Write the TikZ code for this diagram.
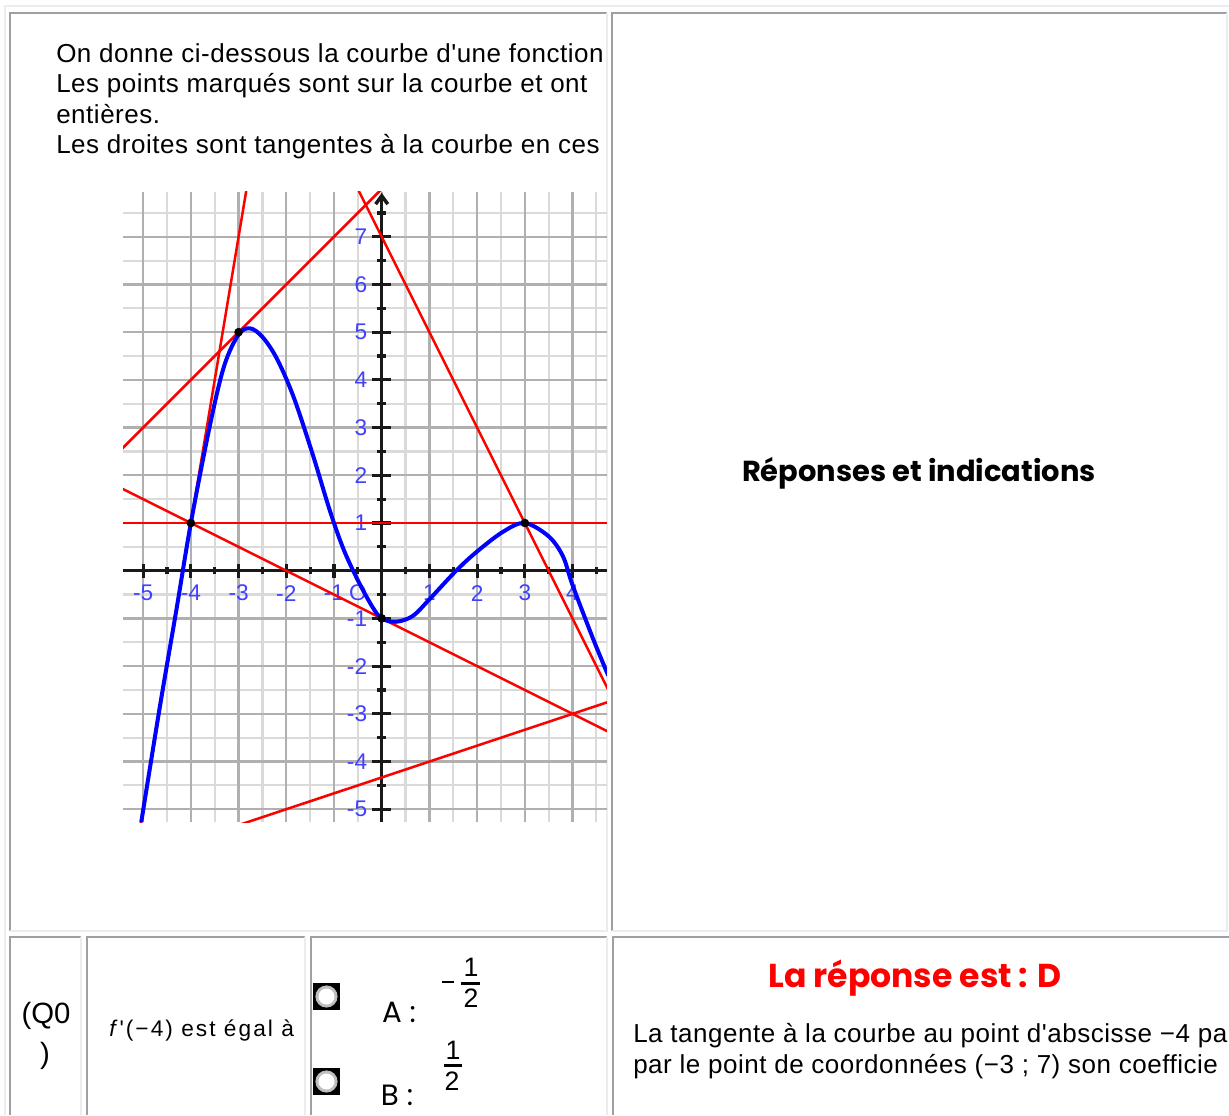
\documentclass[tikz,border=0pt]{standalone}
\usepackage{fontspec}
\setmainfont{Liberation Sans}
\newfontfamily\webfont{Liberation Sans}[LetterSpace=2]
\newfontfamily\widefont{Liberation Sans}[LetterSpace=9]
\newfontfamily\comicfont{Poppins}
\usepackage{xcolor}
\usetikzlibrary{arrows.meta}

\definecolor{celldark}{RGB}{160,160,164}
\definecolor{celllight}{RGB}{236,236,236}
\definecolor{gridmajor}{RGB}{176,176,176}
\definecolor{gridminor}{RGB}{218,218,218}
\definecolor{labelblue}{RGB}{64,64,255}

\begin{document}
\begin{tikzpicture}[x=0.75pt,y=-0.75pt,
  darkedge/.style={celldark,line width=1.5pt},
  lightedge/.style={celllight,line width=1.5pt},
  bodytext/.style={inner sep=0pt,font=\webfont\fontsize{19.5}{23}\selectfont},
  axlabel/.style={inner sep=0pt,text=labelblue,font=\fontsize{17}{20}\selectfont},
  tangent/.style={red,line width=1.9pt},
  curve/.style={blue,line width=3pt,line join=round},
  marked/.style={circle,fill=black,inner sep=0pt,minimum size=6.5pt},
  radio/.style={rectangle,fill=black,inner sep=0pt,minimum size=20pt,
    path picture={\fill[gray!50] (path picture bounding box.center) circle (8.3pt);
                  \fill[white] (path picture bounding box.center) circle (6pt);}}]
  \useasboundingbox[fill=white] (0,0) rectangle (1229,1115);

  % table frame
  \draw[lightedge] (5,1115) |- (1229,5.5);
  \draw[darkedge] (9.5,931) |- (607,12.5);
  \draw[lightedge] (607,12.5) |- (9.5,931);
  \draw[darkedge] (612,931) |- (1227,12.5);
  \draw[lightedge] (1227,12.5) |- (612,931);
  \draw[darkedge] (9.5,1115) |- (81,937);
  \draw[lightedge] (81,937) -- (81,1115);
  \draw[darkedge] (87,1115) |- (305,937);
  \draw[lightedge] (305,937) -- (305,1115);
  \draw[darkedge] (311,1115) |- (607,937);
  \draw[lightedge] (607,937) -- (607,1115);
  \draw[darkedge] (612.5,1115) |- (1229,937);

  % statement
  \begin{scope}
    \clip (10,13) rectangle (605,930);
    \node[bodytext,anchor=base west] (intro1) at (56,62) {On donne ci-dessous la courbe d'une fonction};
    \node[bodytext,anchor=base west] (intro2) at (56,92.5) {Les points marqués sont sur la courbe et ont};
    \node[bodytext,anchor=base west] (intro3) at (56,123) {entières.};
    \node[bodytext,anchor=base west] (intro4) at (56,153.5) {Les droites sont tangentes à la courbe en ces};
  \end{scope}

  % graph
  \begin{scope}[shift={(381.7,570.7)},x={(35.78pt,0pt)},y={(0pt,35.78pt)}]
    \draw[gridminor,line width=1.6pt] (-5.42,-5.27) grid[step=0.5] (4.72,7.94);
    \draw[gridmajor,line width=1.8pt] (-5.42,-5.27) grid[step=1] (4.72,7.94);

    \node[axlabel] (xm5) at (-5,-0.47) {-5};
    \node[axlabel] (xm4) at (-4,-0.47) {-4};
    \node[axlabel] (xm3) at (-3,-0.47) {-3};
    \node[axlabel] (xm2) at (-2,-0.47) {-2};
    \node[axlabel] (xm1) at (-1,-0.47) {-1};
    \node[axlabel] (orig) at (-0.5,-0.47) {O};
    \node[axlabel] (xp1) at (1,-0.47) {1};
    \node[axlabel] (xp2) at (2,-0.47) {2};
    \node[axlabel] (xp3) at (3,-0.47) {3};
    \node[axlabel] (xp4) at (4,-0.47) {4};
    \node[axlabel,anchor=east] (yp7) at (-0.3,7) {7};
    \node[axlabel,anchor=east] (yp6) at (-0.3,6) {6};
    \node[axlabel,anchor=east] (yp5) at (-0.3,5) {5};
    \node[axlabel,anchor=east] (yp4) at (-0.3,4) {4};
    \node[axlabel,anchor=east] (yp3) at (-0.3,3) {3};
    \node[axlabel,anchor=east] (yp2) at (-0.3,2) {2};
    \node[axlabel,anchor=east] (yp1) at (-0.3,1) {1};
    \node[axlabel,anchor=east] (ym1) at (-0.3,-1) {-1};
    \node[axlabel,anchor=east] (ym2) at (-0.3,-2) {-2};
    \node[axlabel,anchor=east] (ym3) at (-0.3,-3) {-3};
    \node[axlabel,anchor=east] (ym4) at (-0.3,-4) {-4};
    \node[axlabel,anchor=east] (ym5) at (-0.3,-5) {-5};

    % axes
    \draw[black!90,line width=2.3pt] (-5.42,0) -- (4.72,0);
    \draw[black!90,line width=2.6pt,-{Straight Barb[length=2.2mm,width=3.2mm]}] (0,-5.27) -- (0,7.92);
    \foreach \t in {-5,...,4} \draw[black!90,line width=2.4pt] (\t,-0.15) -- (\t,0.15);
    \foreach \t in {-4.5,-3.5,-2.5,-1.5,-0.5,0.5,1.5,2.5,3.5,4.5} \draw[black!90,line width=2.4pt] (\t,-0.07) -- (\t,0.07);
    \foreach \t in {-5,...,7} \draw[black!90,line width=2.4pt] (-0.2,\t) -- (0.2,\t);
    \foreach \t in {-4.5,-3.5,-2.5,-1.5,-0.5,0.5,1.5,2.5,3.5,4.5,5.5,6.5,7.5} \draw[black!90,line width=2.4pt] (-0.09,\t) -- (0.09,\t);

    \begin{scope}
      \clip (-5.42,-5.27) rectangle (4.72,7.94);
      \draw[tangent] (-5.1,-5.6) -- (-2.8,8.2);
      \draw[tangent] (-5.6,2.4) -- (0.2,8.2);
      \draw[tangent] (-5.6,1.8) -- (5,-3.5);
      \draw[tangent] (-5.6,1) -- (5,1);
      \draw[tangent] (-0.6,8.2) -- (5,-3);
      \draw[tangent] (-3,-5.333) -- (5,-2.667);
      \draw[curve] plot[smooth,tension=0.55] coordinates {(-5.04,-5.27) (-4.65,-2.85) (-4.3,-0.8) (-4,1) (-3.6,3.05) (-3.3,4.3) (-3,4.95) (-2.76,5.08) (-2.5,4.9) (-2.2,4.45) (-1.85,3.65) (-1.45,2.45) (-1.09,1.27) (-0.8,0.45) (-0.5,-0.2) (-0.2,-0.75) (0,-1) (0.3,-1.07) (0.65,-0.95) (1,-0.6) (1.57,0.01) (2.02,0.42) (2.55,0.82) (3,1) (3.5,0.72) (3.8,0.3) (4,-0.3) (4.44,-1.45) (4.75,-2.2)};
    \end{scope}
    \node[marked] (ptA) at (-4,1) {};
    \node[marked] (ptB) at (-3,5) {};
    \node[marked] (ptC) at (0,-1) {};
    \node[marked] (ptD) at (3,1) {};
  \end{scope}

  % right cell title
  \node[inner sep=0pt,font=\comicfont\bfseries\fontsize{21.7}{25}\selectfont] (title) at (919,473) {Réponses et indications};

  % question row
  \node[inner sep=0pt,font=\fontsize{22}{26}\selectfont] (qnum) at (46,1016) {(Q0};
  \node[inner sep=0pt,font=\fontsize{22}{26}\selectfont] (qclose) at (45,1056) {)};
  \begin{scope}
    \clip (88,938) rectangle (304,1115);
    \node[inner sep=0pt,anchor=base west,font=\widefont\fontsize{17}{20}\selectfont] (question) at (109,1036) {\itshape f\/\upshape '(−4) est égal à};
  \end{scope}
  \node[radio] (radioA) at (326.5,996.5) {};
  \node[radio] (radioB) at (326.5,1081.5) {};
  \node[inner sep=0pt,font=\comicfont\fontsize{22}{26}\selectfont] (choiceA) at (399,1012) {A :};
  \node[inner sep=0pt,font=\comicfont\fontsize{22}{26}\selectfont] (choiceB) at (397,1095) {B :};
  \draw[black,line width=2.2pt] (442,982) -- (454,982);
  \node[inner sep=0pt,font=\fontsize{20}{22}\selectfont] (numA) at (471,967) {1};
  \draw[black,line width=1.6pt] (461,983.5) -- (480,983.5);
  \node[inner sep=0pt,font=\fontsize{20}{22}\selectfont] (denA) at (471,998.5) {2};
  \node[inner sep=0pt,font=\fontsize{20}{22}\selectfont] (numB) at (453,1050) {1};
  \draw[black,line width=1.6pt] (444,1065.5) -- (462,1065.5);
  \node[inner sep=0pt,font=\fontsize{20}{22}\selectfont] (denB) at (452,1081.5) {2};

  % answer cell
  \node[inner sep=0pt,text=red,font=\comicfont\bfseries\fontsize{24.8}{28}\selectfont] (answer) at (915,978) {La réponse est : D};
  \begin{scope}
    \clip (614,938) rectangle (1229,1115);
    \node[bodytext,anchor=base west] (hint1) at (633,1042) {La tangente à la courbe au point d'abscisse −4 pa};
    \node[bodytext,anchor=base west] (hint2) at (633,1073) {par le point de coordonnées (−3 ; 7) son coefficie};
  \end{scope}
\end{tikzpicture}
\end{document}
